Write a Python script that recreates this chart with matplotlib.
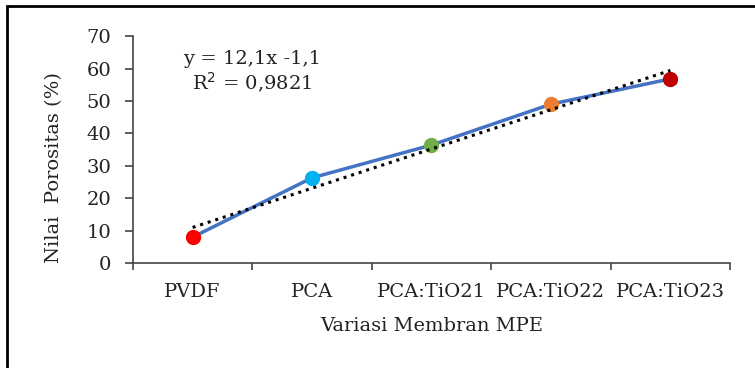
import matplotlib.pyplot as plt
import matplotlib.patches as patches
import numpy as np

categories = ['PVDF', 'PCA', 'PCA:TiO21', 'PCA:TiO22', 'PCA:TiO23']
porosity = [8.0, 26.3, 36.4, 49.0, 56.8]
point_colors = ['#FF0000', '#00B0F0', '#70AD47', '#ED7D31', '#C00000']
slope, intercept = 12.1, -1.1

plt.rcParams['font.family'] = ['DejaVu Serif']

fig = plt.figure(figsize=(7.55, 3.68), dpi=100)
ax = fig.add_axes([0.176, 0.285, 0.791, 0.617])

x = np.arange(1, len(categories) + 1)
ax.plot(x, porosity, color='#4472C4', linewidth=2.5, zorder=2)
for xi, yi, c in zip(x, porosity, point_colors):
    ax.plot(xi, yi, 'o', color=c, markersize=10, zorder=3)

# linear trendline
ax.plot(x, slope * x + intercept, color='black', linestyle=(0, (1, 1.6)),
        linewidth=2.2, zorder=4)

ax.text(1.5, 63, 'y = 12,1x -1,1', ha='center', va='center', fontsize=14, color='#222222')
ax.text(1.5, 55.5, 'R$^2$ = 0,9821', ha='center', va='center', fontsize=14, color='#222222')

ax.set_xlim(0.5, 5.5)
ax.set_ylim(0, 70)
ax.set_yticks(range(0, 71, 10))
ax.set_xticks(np.arange(0.5, 5.6, 1))
ax.set_xticklabels([])
ax.set_xticks(x, minor=True)
ax.set_xticklabels(categories, minor=True)
ax.tick_params(axis='x', which='minor', length=0, pad=14, labelsize=14, colors='#222222')
ax.tick_params(axis='x', which='major', length=5, width=1.2, color='#444444')
ax.tick_params(axis='y', length=5.5, width=1.2, pad=10, color='#444444',
               labelsize=14, labelcolor='#222222')

for s in ['top', 'right']:
    ax.spines[s].set_visible(False)
for s in ['left', 'bottom']:
    ax.spines[s].set_color('#444444')
    ax.spines[s].set_linewidth(1.2)

ax.set_ylabel('Nilai  Porositas (%)', fontsize=14, color='#222222', labelpad=17, y=0.42)
ax.set_xlabel('Variasi Membran MPE', fontsize=14, color='#222222', labelpad=12)

border = patches.Rectangle((7 / 755, -0.1), 1.2, 1.1 - 6 / 368,
                           transform=fig.transFigure, fill=False,
                           edgecolor='black', linewidth=2, clip_on=False)
fig.patches.append(border)

fig.savefig('out.png', dpi=100)
